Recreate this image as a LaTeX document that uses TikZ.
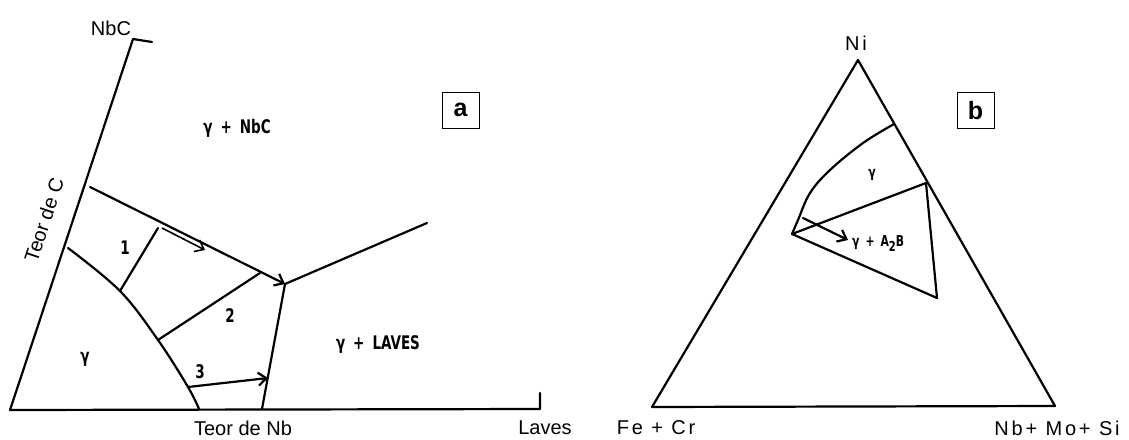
\documentclass[tikz,border=0pt]{standalone}
\usepackage{fontspec}
\setmainfont{Liberation Sans}
\newfontfamily\lettering{DejaVu Sans Condensed}
\newfontfamily\spacedfont{Liberation Sans}[LetterSpace=14]
\usetikzlibrary{arrows.meta}
\newcommand\lettertall[1]{\scalebox{1}[1.25]{#1}}
\begin{document}
\begin{tikzpicture}[x=1pt,y=-1pt,
  ln/.style={line width=2.2pt, line cap=round, line join=round},
  arr/.style={ln, -{Straight Barb[length=8pt,width=13pt]}},
  axlab/.style={font=\fontsize{20}{24}\selectfont, inner sep=0pt},
  spacedlab/.style={font=\spacedfont\fontsize{20}{24}\selectfont, inner sep=0pt},
  let/.style={font=\lettering\bfseries\fontsize{15}{18}\selectfont, inner sep=0pt},
  smalllet/.style={font=\lettering\bfseries\fontsize{12}{14}\selectfont, inner sep=0pt},
  boxlab/.style={draw, line width=1pt, minimum width=37pt, minimum height=36pt, inner sep=0pt, font=\bfseries\fontsize{25}{28}\selectfont}]
\useasboundingbox (0,0) rectangle (1129,439);
% ---------------- panel a ----------------
\coordinate (O) at (10,410);
\coordinate (Ctop) at (133,39);
\coordinate (Ctick) at (152,42);
\coordinate (Xend) at (540,409);
\coordinate (Xtick) at (540,393);
\coordinate (g1) at (68,248);
\coordinate (g2) at (120,291);
\coordinate (g3) at (158,340);
\coordinate (g4) at (188,387);
\coordinate (g5) at (199,409);
\coordinate (B1) at (90,187);
\coordinate (J) at (285,284);
\coordinate (R) at (427,223);
\coordinate (Jb) at (262,409);
\coordinate (T1b) at (158,228);
\coordinate (A1s) at (162,228);
\coordinate (A1e) at (205,250);
\coordinate (T2b) at (260,273);
\coordinate (T3b) at (268,378);

\draw[ln] (Ctick) -- (Ctop) -- (O) -- (Xend) -- (Xtick);
\draw[ln] plot[smooth, tension=0.6] coordinates {(g1) (g2) (g3) (g4) (g5)};
\draw[arr] (B1) -- (J);
\draw[ln] (J) -- (R);
\draw[ln] (J) -- (Jb);
\draw[ln] (g2) -- (T1b);
\draw[line width=1.6pt, -{Straight Barb[length=8pt,width=13pt]}] (A1s) -- (A1e);
\draw[ln] (g3) -- (T2b);
\draw[arr] (g4) -- (T3b);

\node[axlab] (lNbC) at (111,28) {NbC};
\node[axlab, rotate=71.7] (lC) at (44,220) {Teor de C};
\node[axlab] (lNb) at (243,428) {Teor de Nb};
\node[axlab] (lLaves) at (545,428) {Laves};
\node[let] (rNbC) at (237,128) {\lettertall{γ\hspace{8pt}+\hspace{8pt}NbC}};
\node[let] (rLaves) at (378,344) {\lettertall{γ\hspace{8pt}+\hspace{8pt}LAVES}};
\node[let] (rg) at (85,359) {\lettertall{γ}};
\node[let] (n1) at (125,248) {\lettertall{1}};
\node[let] (n2) at (230,316) {\lettertall{2}};
\node[let] (n3) at (200,372) {\lettertall{3}};
\node[boxlab] (ba) at (460.5,110) {a};
% ---------------- panel b ----------------
\coordinate (Ni) at (858,60);
\coordinate (Fe) at (652,407);
\coordinate (Nb) at (1055,406);
\coordinate (p1) at (894,124);
\coordinate (p2) at (863,143);
\coordinate (p3) at (830,170);
\coordinate (p4) at (810,193);
\coordinate (p5) at (798,220);
\coordinate (V) at (792,234);
\coordinate (T) at (926,183);
\coordinate (L) at (937,298);
\coordinate (As) at (803,218);
\coordinate (Ae) at (848,240);

\draw[ln] (Ni) -- (Fe) -- (Nb) -- cycle;
\draw[ln] plot[smooth, tension=0.6] coordinates {(p1) (p2) (p3) (p4) (p5) (V)};
\draw[ln] (V) -- (T) -- (L) -- (V);
\draw[arr] (As) -- (Ae);

\node[spacedlab] (lNi) at (856,43) {Ni};
\node[spacedlab] (lFe) at (656,428) {Fe + Cr};
\node[spacedlab] (lNbMo) at (1057,428) {Nb+ Mo+ Si};
\node[smalllet] (bg) at (872,175) {\lettertall{γ}};
\node[smalllet, anchor=west] (bA2B) at (852,244) {\lettertall{γ\hspace{6pt}+\hspace{6pt}A\raisebox{-4pt}{\fontsize{11}{13}\selectfont 2}B}};
\node[boxlab] (bb) at (975.5,110.5) {b};
\end{tikzpicture}
\end{document}
